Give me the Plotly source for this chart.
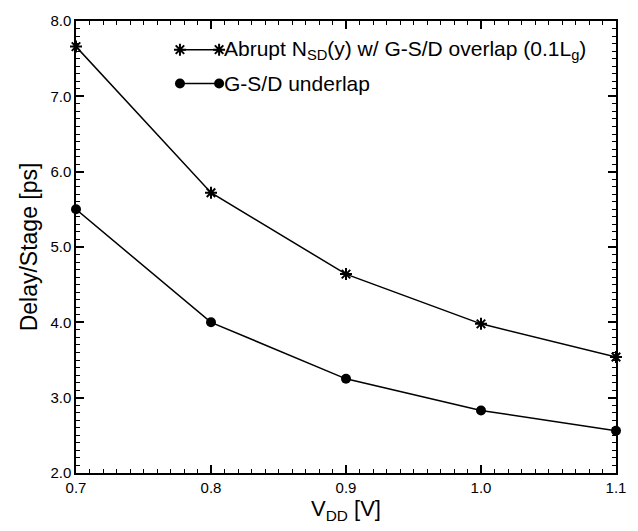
import plotly.graph_objects as go

# Supply voltage sweep
vdd = [0.7, 0.8, 0.9, 1.0, 1.1]

# Delay per stage [ps]
delay_overlap = [7.66, 5.72, 4.64, 3.98, 3.54]
delay_underlap = [5.50, 4.00, 3.25, 2.83, 2.56]

label_overlap = "Abrupt N<sub>SD</sub>(y) w/ G-S/D overlap (0.1L<sub>g</sub>)"
label_underlap = "G-S/D underlap"

x_ticks = [0.7, 0.8, 0.9, 1.0, 1.1]
x_tick_text = ["0.7", "0.8", "0.9", "1.0", "1.1"]
y_ticks = [2, 3, 4, 5, 6, 7, 8]
y_tick_text = ["2.0", "3.0", "4.0", "5.0", "6.0", "7.0", "8.0"]

FONT = "Liberation Sans, Arial, Helvetica, sans-serif"

star = dict(symbol="asterisk-open", size=10, color="black", line=dict(color="black", width=2))
dot = dict(symbol="circle", size=10, color="black")

fig = go.Figure()
fig.add_trace(go.Scatter(x=vdd, y=delay_overlap, mode="lines+markers",
                         line=dict(color="black", width=1.5), marker=star,
                         showlegend=False, cliponaxis=False))
fig.add_trace(go.Scatter(x=vdd, y=delay_underlap, mode="lines+markers",
                         line=dict(color="black", width=1.5), marker=dot,
                         showlegend=False, cliponaxis=False))

# Hand-drawn legend: marker - line - marker, then the label
legend_rows = [(7.62, star, label_overlap), (7.17, dot, label_underlap)]
for ly, mk, text in legend_rows:
    fig.add_trace(go.Scatter(x=[0.777, 0.806], y=[ly, ly], mode="lines+markers",
                             line=dict(color="black", width=1.5), marker=mk,
                             showlegend=False, hoverinfo="skip"))
    fig.add_annotation(x=0.808, y=ly, text=text, showarrow=False, xanchor="left",
                       yanchor="middle", font=dict(family=FONT, size=21, color="black"))

axis_common = dict(showline=True, linecolor="black", linewidth=1.5, mirror="ticks",
                   ticks="inside", ticklen=8, tickwidth=1.5, tickcolor="black",
                   showgrid=False, zeroline=False,
                   tickfont=dict(family=FONT, size=15, color="black"))

fig.update_xaxes(range=[0.7, 1.1], tickvals=x_ticks, ticktext=x_tick_text,
                 minor=dict(ticks="inside", ticklen=4, tickwidth=1, dtick=0.01,
                            tick0=0.7, tickcolor="black"),
                 title=dict(text="V<sub>DD</sub> [V]", standoff=6,
                            font=dict(family=FONT, size=22, color="black")),
                 **axis_common)
fig.update_yaxes(range=[2, 8], tickvals=y_ticks, ticktext=y_tick_text,
                 minor=dict(ticks="inside", ticklen=4, tickwidth=1, dtick=0.1,
                            tick0=2, tickcolor="black"),
                 title=dict(text="Delay/Stage [ps]", standoff=6,
                            font=dict(family=FONT, size=23, color="black")),
                 **axis_common)

fig.update_layout(width=638, height=531, margin=dict(l=76, r=12, t=15, b=58),
                  paper_bgcolor="white", plot_bgcolor="white", showlegend=False)

fig.write_html("out.html")
